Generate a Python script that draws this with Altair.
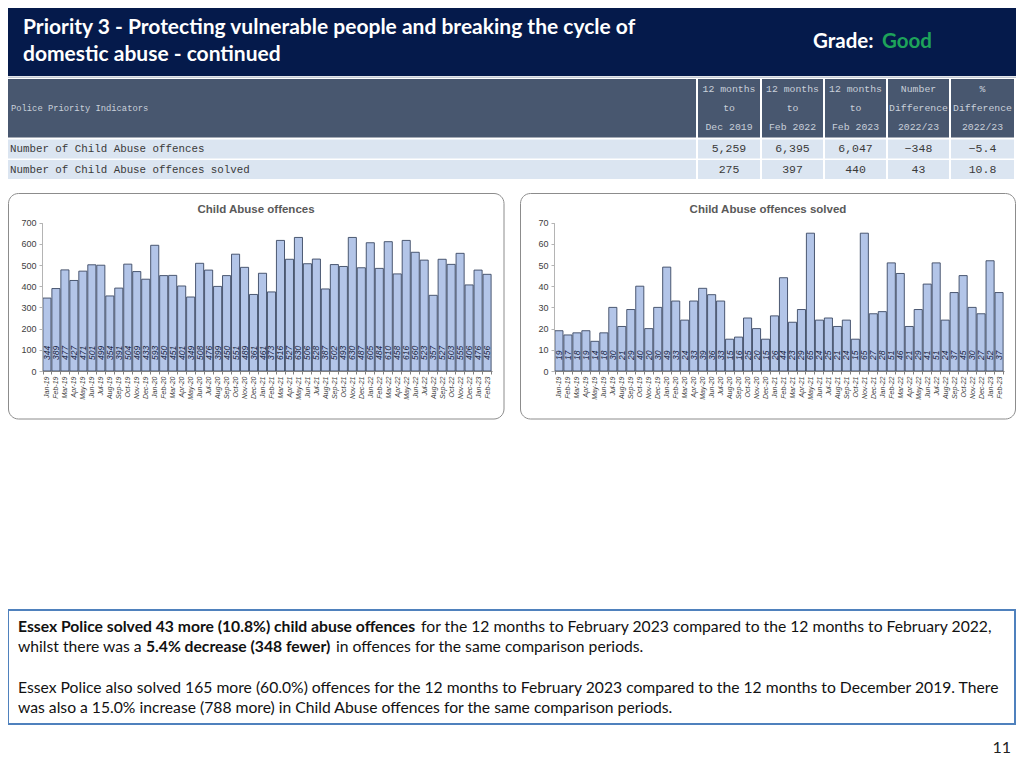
import altair as alt
import pandas as pd

# ---------------- data ----------------
months = ["Jan-19", "Feb-19", "Mar-19", "Apr-19", "May-19", "Jun-19", "Jul-19", "Aug-19", "Sep-19", "Oct-19", "Nov-19", "Dec-19",
          "Jan-20", "Feb-20", "Mar-20", "Apr-20", "May-20", "Jun-20", "Jul-20", "Aug-20", "Sep-20", "Oct-20", "Nov-20", "Dec-20",
          "Jan-21", "Feb-21", "Mar-21", "Apr-21", "May-21", "Jun-21", "Jul-21", "Aug-21", "Sep-21", "Oct-21", "Nov-21", "Dec-21",
          "Jan-22", "Feb-22", "Mar-22", "Apr-22", "May-22", "Jun-22", "Jul-22", "Aug-22", "Sep-22", "Oct-22", "Nov-22", "Dec-22",
          "Jan-23", "Feb-23"]
offences = [344, 389, 477, 427, 471, 501, 499, 354, 391, 504, 469, 433,
            593, 450, 451, 401, 349, 508, 476, 399, 450, 551, 489, 361,
            461, 373, 616, 527, 630, 506, 528, 387, 502, 493, 630, 487,
            605, 484, 610, 458, 616, 560, 523, 357, 527, 503, 555, 406,
            476, 456]
solved = [19, 17, 18, 19, 14, 18, 30, 21, 29, 40, 20, 30,
          49, 33, 24, 33, 39, 36, 33, 15, 16, 25, 20, 15,
          26, 44, 23, 29, 65, 24, 25, 21, 24, 15, 65, 27,
          28, 51, 46, 21, 29, 41, 51, 24, 37, 45, 30, 27,
          52, 37]

title_lines = ["Priority 3 - Protecting vulnerable people and breaking the cycle of",
               "domestic abuse - continued"]
grade_label = "Grade:"
grade_value = "Good"

table_header_left = "Police Priority Indicators"
table_col_headers = [["12 months", "to", "Dec 2019"],
                     ["12 months", "to", "Feb 2022"],
                     ["12 months", "to", "Feb 2023"],
                     ["Number", "Difference", "2022/23"],
                     ["%", "Difference", "2022/23"]]
table_row_labels = ["Number of Child Abuse offences", "Number of Child Abuse offences solved"]
table_values = [["5,259", "6,395", "6,047", "\u2212348", "\u22125.4"],
                ["275", "397", "440", "43", "10.8"]]

chart_titles = ["Child Abuse offences", "Child Abuse offences solved"]
left_ticks = [0, 100, 200, 300, 400, 500, 600, 700]
right_ticks = [0, 10, 20, 30, 40, 50, 60, 70]

body_lines = [
    [("Essex Police solved 43 more (10.8%) child abuse offences", True),
     ("for the 12 months to February 2023 compared to the 12 months to February 2022,", False)],
    [("whilst there was a", False), ("5.4% decrease (348 fewer)", True),
     ("in offences for the same comparison periods.", False)],
    [("Essex Police also solved 165 more (60.0%) offences for the 12 months to February 2023 compared to the 12 months to December 2019. There", False)],
    [("was also a 15.0% increase (788 more) in Child Abuse offences for the same comparison periods.", False)],
]
page_number = "11"

# ---------------- layout ----------------
M = 8
TOTAL_W, TOTAL_H = 1024 - 2 * M, 768 - 2 * M
OX, OY = 42, 8                  # page position of plot origin
AX_LEFT, AX_RIGHT = 42, 554     # page x of the two y-axes
AX_BOTTOM = 371                 # page y of the baseline
Y_TOP = 222.6                   # page y of the top tick
PLOT_W = AX_RIGHT - OX
PLOT_H = AX_BOTTOM - OY


def px(v):
    return v - OX


def py(v):
    return v - OY


one = alt.Data(values=[{}])


def rect(x0, x1, y0, y1, **kw):
    return alt.Chart(one).mark_rect(**kw).encode(
        x=alt.value(px(x0)), x2=alt.value(px(x1)), y=alt.value(py(y0)), y2=alt.value(py(y1)))


def label(txt, x, y, **kw):
    return alt.Chart(one).mark_text(**kw).encode(
        x=alt.value(px(x)), y=alt.value(py(y)), text=alt.value(txt))


layers = []
# header band
layers.append(rect(M, 1024, M, 76, fill="#051a4b"))
layers.append(rect(M, 1024, 76.5, 78, fill="#c3c9d3"))
layers.append(label(title_lines[0], 23, 28, font="Lato", fontSize=21, fontWeight="bold", color="white", align="left", baseline="middle"))
layers.append(label(title_lines[1], 23, 55, font="Lato", fontSize=21, fontWeight="bold", color="white", align="left", baseline="middle"))
layers.append(label(grade_label, 813, 42, font="Lato", fontSize=20.5, fontWeight="bold", color="white", align="left", baseline="middle"))
layers.append(label(grade_value, 882, 42, font="Lato", fontSize=20.5, fontWeight="bold", color="#1ea35a", align="left", baseline="middle"))

# table
col_edges = [(8, 696), (698, 760), (762, 823), (825, 886), (888, 949), (951, 1014)]
row_bands = [(79, 137.5), (139.5, 158.5), (160, 179)]
for ri, (y0, y1) in enumerate(row_bands):
    for (x0, x1) in col_edges:
        layers.append(rect(x0, x1, y0, y1, fill="#48576f" if ri == 0 else "#dbe5f1"))
layers.append(label(table_header_left, 11, 108, font="Liberation Mono", fontSize=8.8, color="#c9d0da", align="left", baseline="middle"))
for ci, lines in enumerate(table_col_headers):
    cx = (col_edges[ci + 1][0] + col_edges[ci + 1][1]) / 2
    for li, t in enumerate(lines):
        layers.append(label(t, cx, 89 + 19 * li, font="Liberation Mono", fontSize=9.8, color="#c9d0da", align="center", baseline="middle"))
for ri, rl in enumerate(table_row_labels):
    yc = (row_bands[ri + 1][0] + row_bands[ri + 1][1]) / 2
    layers.append(label(rl, 10, yc, font="Liberation Mono", fontSize=10.8, color="#3a3a3a", align="left", baseline="middle"))
    for ci, v in enumerate(table_values[ri]):
        cx = (col_edges[ci + 1][0] + col_edges[ci + 1][1]) / 2
        layers.append(label(v, cx, yc, font="Liberation Mono", fontSize=11.5, color="#3a3a3a", align="center", baseline="middle"))

# chart panels (outline only, page background is white)
layers.append(rect(8.5, 504, 193.5, 419, fill="transparent", stroke="#8c8c8c", strokeWidth=1, cornerRadius=10))
layers.append(rect(520.5, 1015.5, 193.5, 419, fill="transparent", stroke="#8c8c8c", strokeWidth=1, cornerRadius=10))
layers.append(label(chart_titles[0], 256, 210, font="Liberation Sans", fontSize=11.5, fontWeight="bold", color="#595959", align="center", baseline="middle"))
layers.append(label(chart_titles[1], 768, 210, font="Liberation Sans", fontSize=11.5, fontWeight="bold", color="#595959", align="center", baseline="middle"))


def bar_panel(values, ticks, x0, x1, ymax):
    df = pd.DataFrame({"month": months, "value": values})
    xscale = alt.Scale(domain=months, range=[px(x0), px(x1)], paddingInner=0.1, paddingOuter=0.1)
    yscale = alt.Scale(domain=[0, ymax], range=[py(AX_BOTTOM), py(Y_TOP)], nice=False, zero=True)
    xaxis = alt.Axis(orient="bottom", title=None, labelAngle=270,
                     labelFontSize=7, labelFontStyle="italic", labelFont="Liberation Sans",
                     labelColor="#404040", labelOverlap=False, tickBand="extent",
                     tickSize=3, tickColor="#808080", domainColor="#808080",
                     labelPadding=2, grid=False, zindex=1)
    yaxis = alt.Axis(orient="left", offset=-px(x0), title=None, values=ticks,
                     labelFontSize=9, labelFont="Liberation Sans", labelColor="#404040",
                     domainColor="#b4b4b4", tickColor="#b4b4b4", tickSize=3,
                     labelPadding=3, grid=False, zindex=1)
    bars = alt.Chart(df).mark_bar(fill="#b3c5e8", stroke="#3b4863", strokeWidth=0.9).encode(
        x=alt.X("month:N", sort=months, scale=xscale, axis=xaxis),
        y=alt.Y("value:Q", scale=yscale, axis=yaxis),
    )
    texts = alt.Chart(df).mark_text(angle=270, align="left", baseline="middle", dx=11,
                                    fontStyle="italic", fontSize=8.5, font="Liberation Sans",
                                    color="#1a2642").encode(
        x=alt.X("month:N", sort=months, scale=xscale, axis=xaxis),
        y=alt.Y(datum=0, type="quantitative", scale=yscale, axis=yaxis),
        text="value:Q",
    )
    return alt.layer(bars, texts)


layers.append(bar_panel(offences, left_ticks, AX_LEFT, 492, 700))
layers.append(bar_panel(solved, right_ticks, AX_RIGHT, 1004, 70))

# text box
layers.append(rect(8, 1015, 610, 724, fill="white", stroke="#4f81bd", strokeWidth=2))
seg_x = [[18, 421], [18, 146, 336], [18], [18]]
seg_y = [627, 647, 688, 708]
for li, segs in enumerate(body_lines):
    for si, (t, b) in enumerate(segs):
        layers.append(label(t, seg_x[li][si], seg_y[li], font="Lato", fontSize=15.7,
                            fontWeight="bold" if b else "normal", color="#111111",
                            align="left", baseline="middle"))
layers.append(label(page_number, 1011, 748, font="Lato", fontSize=16, color="#222222", align="right", baseline="middle"))

pad = {"left": OX - M, "top": OY - M,
       "right": TOTAL_W - (OX - M) - PLOT_W,
       "bottom": TOTAL_H - (OY - M) - PLOT_H}

chart = alt.layer(*layers).resolve_scale(x="independent", y="independent").properties(
    width=PLOT_W, height=PLOT_H, autosize=alt.AutoSizeParams(type="none"), padding=pad, background="white"
).configure_view(strokeWidth=0).configure_axis(grid=False)

chart.save("out.html", embed_options={"renderer": "svg", "actions": False})
